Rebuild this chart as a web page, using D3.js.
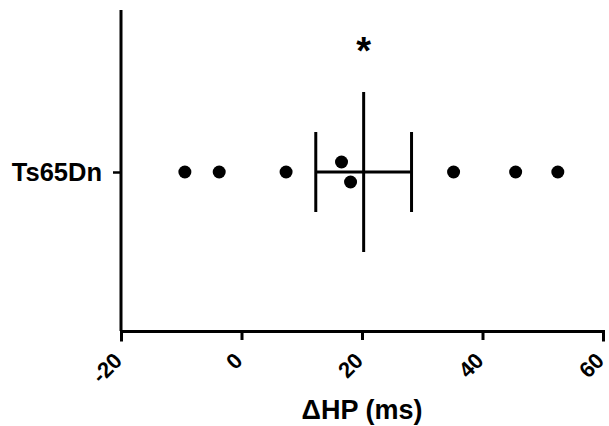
<!DOCTYPE html>
<html>
<head>
<meta charset="utf-8">
<script src="https://cdn.jsdelivr.net/npm/d3@7"></script>
<style>
  body { margin: 0; background: #fff; }
  svg { display: block; }
</style>
</head>
<body>
<div id="chart"></div>
<script>
var width = 609,
  height = 426,
  margin = {top: 10, right: 6, bottom: 95, left: 121};

// data
var groups = ["Ts65Dn"];
var values = [-9.4, -3.7, 7.4, 16.6, 18.1, 35.2, 45.5, 52.5];
var xTicks = [-20, 0, 20, 40, 60];
var xTitle = "\u0394HP (ms)";
var marker = "*";

var font = "'Liberation Sans', Arial, sans-serif";

var svg = d3.select("#chart").append("svg")
  .attr("width", width)
  .attr("height", height)
  .style("font-family", font);

var x = d3.scaleLinear()
  .domain([-20, 60])
  .range([margin.left, width - margin.right]);

var y = d3.scalePoint()
  .domain(groups)
  .range([height - margin.bottom, margin.top + 3])
  .padding(0.5);

var mean = d3.mean(values),
  sem = d3.deviation(values) / Math.sqrt(values.length),
  cy = y(groups[0]),
  r = 6.5;

// x axis
var xAxis = svg.append("g")
  .attr("transform", "translate(0," + (height - margin.bottom) + ")")
  .call(d3.axisBottom(x).tickValues(xTicks).tickSize(9).tickSizeOuter(9)
    .tickFormat(function(d) { return String(d); }));
xAxis.attr("font-family", null);
xAxis.select(".domain").attr("stroke-width", 3).attr("stroke-linecap", "square");
xAxis.selectAll(".tick line").attr("stroke-width", 3);
xAxis.selectAll(".tick text")
  .attr("font-size", 22)
  .attr("font-weight", "bold")
  .attr("fill", "#000")
  .attr("text-anchor", "end")
  .attr("dy", null)
  .attr("y", 0)
  .attr("transform", "translate(2,31) rotate(-45)");

// y axis
svg.append("line")
  .attr("x1", margin.left).attr("x2", margin.left)
  .attr("y1", margin.top).attr("y2", height - margin.bottom)
  .attr("stroke", "#000").attr("stroke-width", 3);

var yAxis = svg.append("g")
  .attr("transform", "translate(" + margin.left + ",0)")
  .call(d3.axisLeft(y).tickSize(8).tickPadding(11));
yAxis.attr("font-family", null);
yAxis.select(".domain").remove();
yAxis.selectAll(".tick line").attr("stroke-width", 2.5);
yAxis.selectAll(".tick text")
  .attr("font-size", 25.5)
  .attr("font-weight", "bold")
  .attr("fill", "#000");

// nudge overlapping points up / down
var offsets = values.map(function(v, i) {
  var prev = values[i - 1], next = values[i + 1];
  var closePrev = prev !== undefined && Math.abs(x(v) - x(prev)) < 2 * r;
  var closeNext = next !== undefined && Math.abs(x(next) - x(v)) < 2 * r;
  if (closePrev) return 10;
  if (closeNext) return -10;
  return 0;
});

svg.selectAll("circle.pt")
  .data(values)
  .enter().append("circle")
  .attr("class", "pt")
  .attr("cx", function(d) { return x(d); })
  .attr("cy", function(d, i) { return cy + offsets[i]; })
  .attr("r", r)
  .attr("fill", "#000");

// mean and SEM
var bars = svg.append("g").attr("stroke", "#000").attr("stroke-width", 3);
bars.append("line")
  .attr("x1", x(mean)).attr("x2", x(mean))
  .attr("y1", cy - 80).attr("y2", cy + 80);
bars.append("line")
  .attr("x1", x(mean - sem)).attr("x2", x(mean + sem))
  .attr("y1", cy).attr("y2", cy);
[mean - sem, mean + sem].forEach(function(v) {
  bars.append("line")
    .attr("x1", x(v)).attr("x2", x(v))
    .attr("y1", cy - 40).attr("y2", cy + 40);
});

svg.append("text")
  .attr("x", x(mean))
  .attr("y", 64)
  .attr("text-anchor", "middle")
  .attr("font-size", 38)
  .attr("font-weight", "bold")
  .text(marker);

svg.append("text")
  .attr("x", (x.range()[0] + x.range()[1]) / 2)
  .attr("y", 419)
  .attr("text-anchor", "middle")
  .attr("font-size", 27)
  .attr("font-weight", "bold")
  .text(xTitle);
</script>
</body>
</html>
